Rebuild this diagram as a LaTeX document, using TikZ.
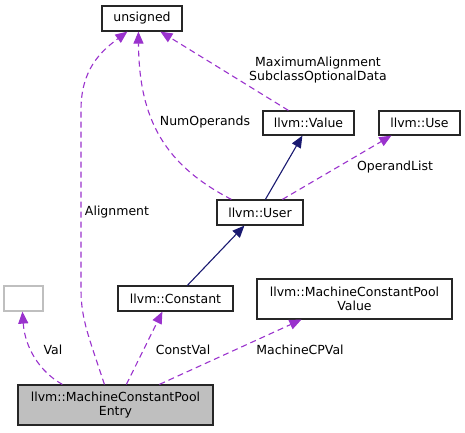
\documentclass[tikz,border=0pt]{standalone}
\usepackage{fontspec}
\setmainfont{DejaVu Sans}
\usetikzlibrary{arrows.meta}
\definecolor{orchid}{HTML}{9A32CD}
\definecolor{navyblue}{HTML}{191970}
\definecolor{boxgray}{HTML}{BFBFBF}
\tikzset{
  cls/.style={draw=black!85, line width=1.2pt, inner sep=0pt, align=center, font=\fontsize{12.5}{13.6}\selectfont},
  usage/.style={draw=orchid, line width=1.1pt, dash pattern=on 6pt off 4pt, -{Triangle[length=12pt,width=10pt]}, color=orchid},
  inherit/.style={draw=navyblue, line width=1.1pt, -{Triangle[length=12pt,width=10pt]}, color=navyblue},
  lbl/.style={inner sep=0pt, align=center, font=\fontsize{12.5}{14}\selectfont, text=black}
}
\begin{document}
\begin{tikzpicture}[x=1pt,y=-1pt]
\useasboundingbox (0,0) rectangle (465,432);
\node[cls, minimum width=80pt, minimum height=25pt] (unsigned) at (142,18.5) {unsigned};
\node[cls, minimum width=91pt, minimum height=24pt] (value) at (308.5,123) {llvm::Value};
\node[cls, minimum width=81pt, minimum height=24pt] (use) at (419.5,123) {llvm::Use};
\node[cls, minimum width=86pt, minimum height=25pt] (user) at (260,212.5) {llvm::User};
\node[cls, draw=boxgray, minimum width=39pt, minimum height=25pt] (empty) at (23.5,298.5) {};
\node[cls, minimum width=115pt, minimum height=25pt] (constant) at (175.5,298.5) {llvm::Constant};
\node[cls, minimum width=195pt, minimum height=40pt] (mcpv) at (354.5,299) {llvm::MachineConstantPool\\Value};
\node[cls, fill=boxgray, minimum width=195pt, minimum height=40pt] (entry) at (115.5,405) {llvm::MachineConstantPool\\Entry};

% inheritance
\draw[inherit] ([xshift=49pt]user.north west) -- ([xshift=40pt]value.south west);
\draw[inherit] ([xshift=70pt]constant.north west) -- ([xshift=28pt]user.south west);

% usage
\draw[usage] ([xshift=26pt]value.north west) -- ([xshift=59pt]unsigned.south west);
\draw[usage] ([xshift=15pt]user.north west) .. controls (165,165) and (139,120) .. ([xshift=37pt]unsigned.south west);
\draw[usage] ([xshift=66pt]user.north west) -- ([xshift=13pt]use.south west);
\draw[usage] ([xshift=45pt]entry.north west) .. controls (40,372) and (25,348) .. ([xshift=19pt]empty.south west);
\draw[usage] ([xshift=87pt]entry.north west) .. controls (90,340) and (81,320) .. (81,290) -- (81,110) .. controls (81,70) and (100,52) .. ([xshift=26pt]unsigned.south west);
\draw[usage] ([xshift=109pt]entry.north west) -- ([xshift=45pt]constant.south west);
\draw[usage] ([xshift=142pt]entry.north west) -- ([xshift=45pt]mcpv.south west);

% labels
\node[lbl] (l1) at (318,70) {MaximumAlignment\\SubclassOptionalData};
\node[lbl] (l2) at (205,122) {NumOperands};
\node[lbl] (l3) at (395,167) {OperandList};
\node[lbl] (l4) at (117,212) {Alignment};
\node[lbl] (l5) at (53,350) {Val};
\node[lbl] (l6) at (183,350) {ConstVal};
\node[lbl] (l7) at (300,350) {MachineCPVal};
\end{tikzpicture}
\end{document}
